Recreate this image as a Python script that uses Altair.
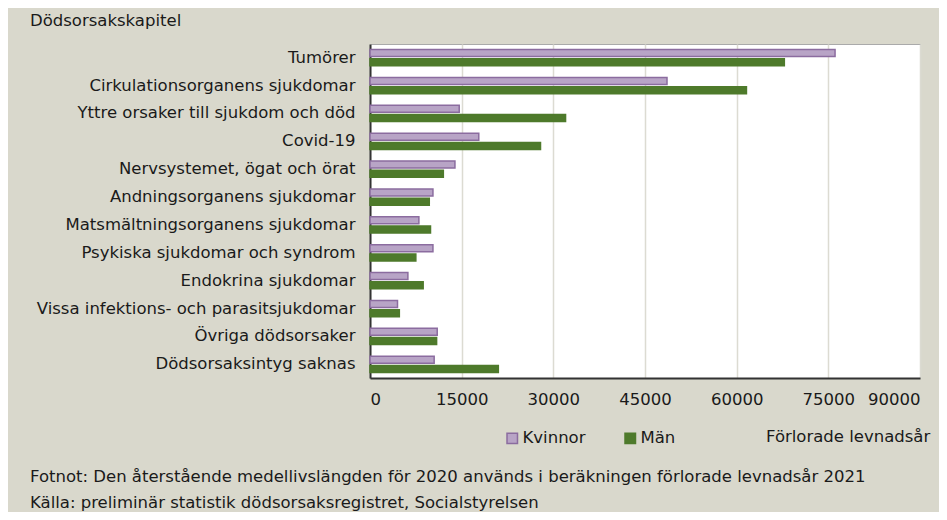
import altair as alt
import pandas as pd

categories = [
    "Tumörer",
    "Cirkulationsorganens sjukdomar",
    "Yttre orsaker till sjukdom och död",
    "Covid-19",
    "Nervsystemet, ögat och örat",
    "Andningsorganens sjukdomar",
    "Matsmältningsorganens sjukdomar",
    "Psykiska sjukdomar och syndrom",
    "Endokrina sjukdomar",
    "Vissa infektions- och parasitsjukdomar",
    "Övriga dödsorsaker",
    "Dödsorsaksintyg saknas",
]
kvinnor = [76100, 48600, 14600, 17800, 13900, 10300, 8000, 10300, 6200, 4500, 11000, 10500]
man = [67800, 61600, 32000, 27900, 12000, 9700, 9900, 7500, 8700, 4800, 10900, 21000]
series = ["Kvinnor", "Män"]
x_ticks = [0, 15000, 30000, 45000, 60000, 75000, 90000]

rows = []
for c, k, m in zip(categories, kvinnor, man):
    rows.append({"kapitel": c, "kon": "Kvinnor", "varde": k})
    rows.append({"kapitel": c, "kon": "Män", "varde": m})
df = pd.DataFrame(rows)

FONT = "DejaVu Sans"
BG = "#d9d8cc"
FS = 16.5

bars = alt.Chart(df).mark_bar(strokeWidth=1.5).encode(
    x=alt.X("varde:Q", scale=alt.Scale(domain=[0, 90000], nice=False),
            axis=alt.Axis(values=x_ticks, title=None, format="d", grid=True,
                          gridColor="#dcdbd2", gridWidth=1.5, ticks=False,
                          domain=True, domainColor="#333333", domainWidth=2,
                          labelFontSize=FS, labelPadding=13, labelColor="#1a1a1a",
                          labelFont=FONT)),
    y=alt.Y("kapitel:N", sort=categories,
            scale=alt.Scale(paddingInner=0.42, paddingOuter=0.2),
            axis=alt.Axis(title=None, ticks=False, domain=True, domainColor="#333333",
                          domainWidth=2, labelFontSize=FS, labelPadding=15,
                          labelColor="#1a1a1a", labelFont=FONT, labelLimit=400)),
    yOffset=alt.YOffset("kon:N", sort=series, scale=alt.Scale(paddingInner=0.25)),
    color=alt.Color("kon:N", sort=series,
                    scale=alt.Scale(domain=series, range=["#b8a4c6", "#4e7a2b"]),
                    legend=alt.Legend(title=None, orient="none", direction="horizontal",
                                      legendX=134, legendY=386, symbolType="square",
                                      symbolSize=110, symbolStrokeWidth=1.5,
                                      labelFontSize=FS, labelFont=FONT,
                                      labelColor="#1a1a1a", columnPadding=36,
                                      labelOffset=2)),
    stroke=alt.Stroke("kon:N", sort=series,
                      scale=alt.Scale(domain=series, range=["#8b6c9f", "#4e7a2b"]),
                      legend=None),
)

def txt(s, x, y, align="left"):
    return alt.Chart(pd.DataFrame({"t": [s]})).mark_text(
        align=align, baseline="middle", fontSize=FS, font=FONT, color="#1a1a1a"
    ).encode(text="t:N", x=alt.value(x), y=alt.value(y))

title_t = txt("Dödsorsakskapitel", 30 - 370, 21 - 44)
xtitle = txt("Förlorade levnadsår", 766 - 370, 437 - 44)
foot1 = txt("Fotnot: Den återstående medellivslängden för 2020 används i beräkningen förlorade levnadsår 2021", 30 - 370, 477 - 44)
foot2 = txt("Källa: preliminär statistik dödsorsaksregistret, Socialstyrelsen", 30 - 370, 503 - 44)

chart = alt.layer(bars, title_t, xtitle, foot1, foot2).properties(
    width=550, height=334,
    autosize=alt.AutoSizeParams(type="none"),
    padding={"left": 362, "top": 36, "right": 19, "bottom": 134},
    background=BG,
).configure_view(
    fill="white", stroke="#aaaaaa", strokeWidth=1
)

chart.save("out.html", embed_options={"renderer": "svg", "actions": False})
